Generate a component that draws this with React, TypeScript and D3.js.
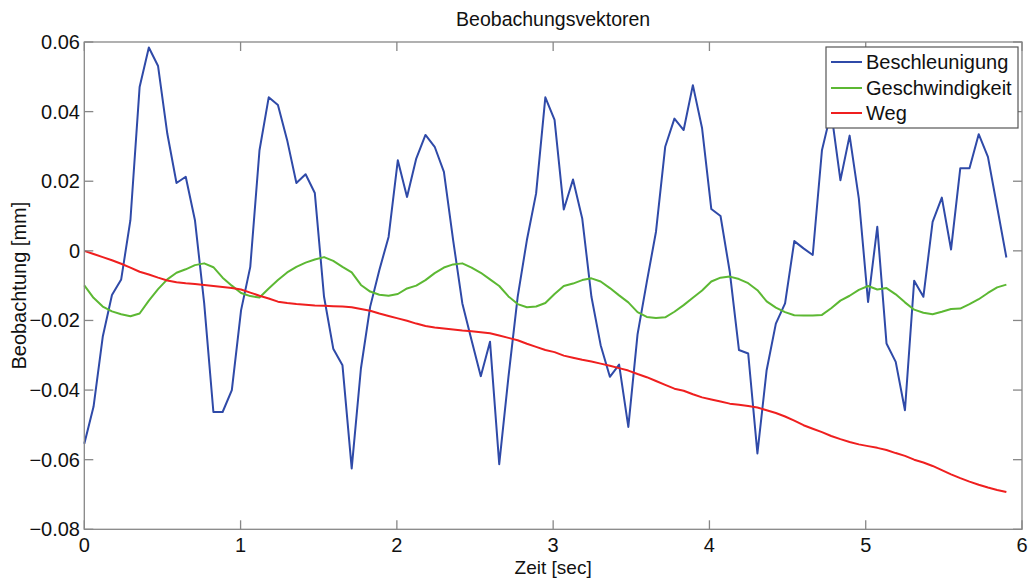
import React from "react";
import * as d3 from "d3";

const TITLE = "Beobachungsvektoren";
const X_LABEL = "Zeit [sec]";
const Y_LABEL = "Beobachtung [mm]";
const SERIES_NAMES = ["Beschleunigung", "Geschwindigkeit", "Weg"];
const X_TICKS = [0, 1, 2, 3, 4, 5, 6];
const Y_TICKS = [-0.08, -0.06, -0.04, -0.02, 0, 0.02, 0.04, 0.06];
const T_STEP = 0.059; // seconds between samples

const beschleunigung = [
  -0.0554, -0.0448, -0.0247, -0.0127, -0.0082, 0.0088, 0.0471, 0.0584, 0.0531, 0.0337,
  0.0195, 0.0213, 0.0088, -0.015, -0.0463, -0.0463, -0.04, -0.0171, -0.0046, 0.0289,
  0.0441, 0.0419, 0.0318, 0.0195, 0.022, 0.0166, -0.0132, -0.0281, -0.0329, -0.0625,
  -0.0338, -0.0161, -0.0055, 0.004, 0.026, 0.0155, 0.0265, 0.0333, 0.0299, 0.0227,
  0.0031, -0.0151, -0.0257, -0.036, -0.0261, -0.0613, -0.0362, -0.0132, 0.0031, 0.0165,
  0.0441, 0.0376, 0.0119, 0.0205, 0.0093, -0.0132, -0.0271, -0.0362, -0.0327, -0.0506,
  -0.024, -0.009, 0.0055, 0.0299, 0.038, 0.0347, 0.0476, 0.0352, 0.012, 0.01,
  -0.006, -0.0285, -0.0295, -0.0582, -0.0343, -0.0209, -0.0151, 0.0028, 0.0007, -0.0012,
  0.0289, 0.04, 0.0203, 0.0331, 0.015, -0.0147, 0.0069, -0.0266, -0.0319, -0.0458,
  -0.0086, -0.0132, 0.0083, 0.0153, 0.0004, 0.0237, 0.0237, 0.0335, 0.027, 0.0126,
  -0.0019,
];

const geschwindigkeit = [
  -0.0099, -0.0135, -0.016, -0.0174, -0.0182, -0.0188, -0.018, -0.0143, -0.011, -0.0082,
  -0.0063, -0.0053, -0.0041, -0.0036, -0.0047, -0.0077, -0.01, -0.0121, -0.013, -0.0134,
  -0.0108, -0.0084, -0.0062, -0.0046, -0.0034, -0.0025, -0.0018, -0.0029, -0.0046, -0.0062,
  -0.0098, -0.0117, -0.0126, -0.0129, -0.0124, -0.0108, -0.01, -0.0084, -0.0064, -0.0048,
  -0.0039, -0.0036, -0.0048, -0.0063, -0.0082, -0.0101, -0.0131, -0.0153, -0.0162, -0.016,
  -0.015, -0.0124, -0.0101, -0.0094, -0.0084, -0.0079, -0.0088, -0.0107, -0.0128, -0.0148,
  -0.0176, -0.019, -0.0193, -0.0191, -0.0175, -0.0156, -0.0135, -0.0114, -0.0088, -0.0077,
  -0.0074, -0.0081, -0.0093, -0.0113, -0.0145, -0.0163, -0.0176, -0.0185, -0.0186, -0.0186,
  -0.0184, -0.0165, -0.0143, -0.0129, -0.0112, -0.0101, -0.0111, -0.0107, -0.0125, -0.0148,
  -0.0169, -0.0178, -0.0182, -0.0175, -0.0167, -0.0166, -0.0153, -0.0139, -0.0121, -0.0105,
  -0.0097,
];

const weg = [
  0.0, -0.0009, -0.0018, -0.0027, -0.0037, -0.0048, -0.006, -0.0068, -0.0077, -0.0085,
  -0.009, -0.0093, -0.0095, -0.0098, -0.0101, -0.0104, -0.0107, -0.0111, -0.012, -0.0129,
  -0.0137, -0.0146, -0.015, -0.0153, -0.0155, -0.0157, -0.0158, -0.0159, -0.016, -0.0162,
  -0.0167, -0.0172, -0.018, -0.0187, -0.0194, -0.0201, -0.0209, -0.0216, -0.022, -0.0223,
  -0.0226, -0.0229, -0.0231, -0.0234, -0.0237, -0.0243, -0.025, -0.0257, -0.0267, -0.0276,
  -0.0285, -0.0291, -0.0301, -0.0307, -0.0313, -0.0318, -0.0324, -0.033, -0.0337, -0.0344,
  -0.0354, -0.0363, -0.0374, -0.0385, -0.0396, -0.0402, -0.0412, -0.0421, -0.0427, -0.0433,
  -0.0439, -0.0442, -0.0446, -0.045, -0.0458, -0.0466, -0.0476, -0.0488, -0.0501, -0.0511,
  -0.0521, -0.0532, -0.0541, -0.0549, -0.0556, -0.0561, -0.0566, -0.0572, -0.0581, -0.0589,
  -0.06, -0.0608, -0.0618, -0.063, -0.0642, -0.0653, -0.0663, -0.0672, -0.068, -0.0687,
  -0.0693,
];

const COLORS = ["#2f4aa8", "#5cb833", "#ef1f1f"];
const FONT = "'Liberation Sans', Arial, sans-serif";

export default function App() {
  const W = 1029;
  const H = 579;
  const left = 84.3;
  const right = 1022;
  const top = 42;
  const bottom = 529.3;

  const x = d3.scaleLinear().domain([0, 6]).range([left, right]);
  const y = d3.scaleLinear().domain([-0.08, 0.06]).range([bottom, top]);

  const series = [beschleunigung, geschwindigkeit, weg];
  const line = d3
    .line<number>()
    .x((_, i) => x(i * T_STEP))
    .y((d) => y(d));

  const axisColor = "#878787";
  const tickLen = 9;
  const fmtY = (v: number) => (Math.abs(v) < 1e-9 ? "0" : d3.format(".2f")(v));

  const legX = 826;
  const legY = 47;
  const legW = 192;
  const legH = 81;
  const legRows = [62, 88, 113];

  return (
    <svg
      width={W}
      height={H}
      style={{ position: "absolute", left: 0, top: 0, background: "#fff" }}
      fontFamily={FONT}
    >
      <rect x={0} y={0} width={W} height={H} fill="#fff" />
      {/* data lines */}
      {series.map((s, k) => (
        <path
          key={k}
          d={line(s) || ""}
          fill="none"
          stroke={COLORS[k]}
          strokeWidth={2}
          strokeLinejoin="round"
        />
      ))}
      {/* axes box */}
      <rect
        x={left}
        y={top}
        width={right - left}
        height={bottom - top}
        fill="none"
        stroke={axisColor}
        strokeWidth={1.3}
      />
      {X_TICKS.map((t) => (
        <g key={"x" + t}>
          <line x1={x(t)} x2={x(t)} y1={bottom} y2={bottom - tickLen} stroke={axisColor} strokeWidth={1.3} />
          <line x1={x(t)} x2={x(t)} y1={top} y2={top + tickLen} stroke={axisColor} strokeWidth={1.3} />
          <text x={x(t)} y={552} textAnchor="middle" fontSize={20} fill="#111">
            {t}
          </text>
        </g>
      ))}
      {Y_TICKS.map((t) => (
        <g key={"y" + t}>
          <line x1={left} x2={left + tickLen} y1={y(t)} y2={y(t)} stroke={axisColor} strokeWidth={1.3} />
          <line x1={right} x2={right - tickLen} y1={y(t)} y2={y(t)} stroke={axisColor} strokeWidth={1.3} />
          <text x={80} y={y(t) + 7} textAnchor="end" fontSize={20} fill="#111">
            {fmtY(t)}
          </text>
        </g>
      ))}
      {/* title and labels */}
      <text x={(left + right) / 2} y={26} textAnchor="middle" fontSize={19.5} fill="#111">
        {TITLE}
      </text>
      <text x={(left + right) / 2} y={574} textAnchor="middle" fontSize={19} fill="#111">
        {X_LABEL}
      </text>
      <text
        transform={`translate(26, ${(top + bottom) / 2}) rotate(-90)`}
        textAnchor="middle"
        fontSize={20}
        fill="#111"
      >
        {Y_LABEL}
      </text>
      {/* legend */}
      <rect x={legX} y={legY} width={legW} height={legH} fill="#fff" stroke="#555" strokeWidth={1.2} />
      {SERIES_NAMES.map((name, k) => (
        <g key={name}>
          <line x1={831} x2={862} y1={legRows[k]} y2={legRows[k]} stroke={COLORS[k]} strokeWidth={2} />
          <text x={866} y={legRows[k] + 7} fontSize={20} fill="#111">
            {name}
          </text>
        </g>
      ))}
    </svg>
  );
}
